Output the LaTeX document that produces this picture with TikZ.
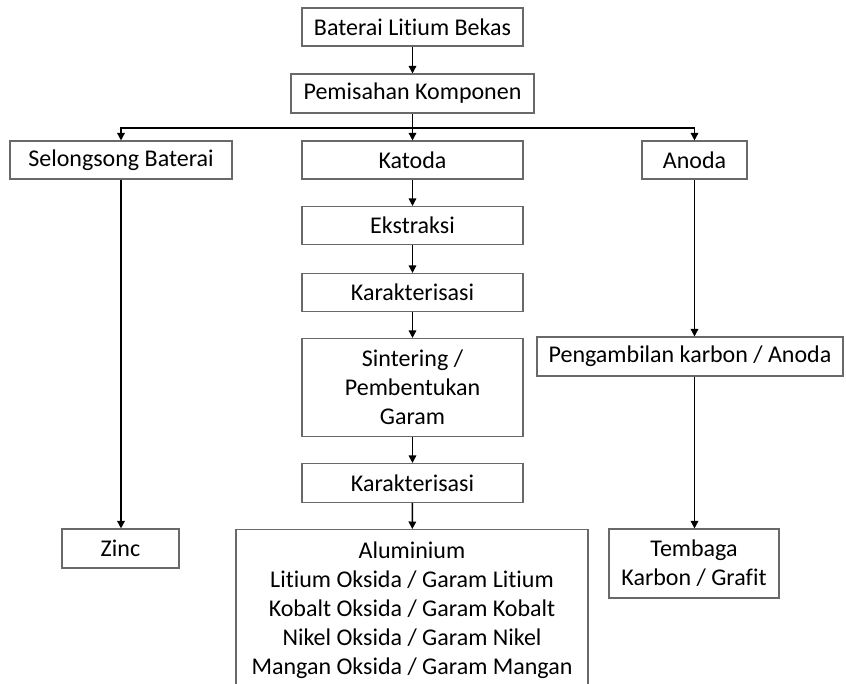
\documentclass[tikz,border=0pt]{standalone}
\usepackage{fontspec}
\setmainfont{Carlito}[Ligatures=NoCommon]
\usetikzlibrary{arrows.meta}
\definecolor{boxgray}{RGB}{105,105,105}
\begin{document}
\begin{tikzpicture}[x=1pt,y=-1pt,
  box/.style={draw=boxgray,line width=1.1pt,rectangle,inner sep=0pt,align=center,
    font=\fontsize{24}{29}\selectfont},
  conn/.style={draw=black,line width=1.5pt,-{Triangle[length=7.5pt,width=7.5pt]}},
  plainline/.style={draw=black,line width=1.5pt}]
\clip (0,0) rectangle (846,683);
\fill[white] (0,0) rectangle (846,683);
\node[box,minimum width=221,minimum height=38] (b1) at (412.5,27) {Baterai Litium Bekas};
\node[box,minimum width=243,minimum height=39] (b2) at (412.5,93.5) {Pemisahan Komponen};
\node[box,minimum width=222,minimum height=38] (sel) at (121,160) {Selongsong Baterai};
\node[box,minimum width=221,minimum height=38] (kat) at (412.5,160) {Katoda};
\node[box,minimum width=105,minimum height=38] (ano) at (694.5,160) {Anoda};
\node[box,minimum width=221,minimum height=38] (eks) at (412.5,225.5) {Ekstraksi};
\node[box,minimum width=221,minimum height=38] (kar1) at (412.5,292.5) {Karakterisasi};
\node[box,minimum width=221,minimum height=98] (sin) at (412.5,387.5) {Sintering /\\Pembentukan\\Garam};
\node[box,minimum width=221,minimum height=39] (kar2) at (412.5,483) {Karakterisasi};
\node[box,minimum width=306,minimum height=39] (peng) at (690,356.5) {Pengambilan karbon / Anoda};
\node[box,minimum width=117,minimum height=39] (zinc) at (120.5,548.5) {Zinc};
\node[box,minimum width=170,minimum height=69] (tem) at (694,563.5) {Tembaga\\Karbon / Grafit};
\node[box,anchor=north,minimum width=352,inner ysep=12pt] (out) at (412,529)
  {Aluminium\\Litium Oksida / Garam Litium\\Kobalt Oksida / Garam Kobalt\\Nikel Oksida / Garam Nikel\\Mangan Oksida / Garam Mangan};
\coordinate (hl) at (412.5,128);
\draw[conn] (b1) -- (b2);
\draw[plainline] (b2.south) -- (hl);
\draw[conn] (hl) -| (sel.north);
\draw[conn] (hl) -| (ano.north);
\draw[conn] (hl) -- (kat.north);
\draw[conn] (kat) -- (eks);
\draw[conn] (eks) -- (kar1);
\draw[conn] (kar1) -- (sin);
\draw[conn] (sin) -- (kar2);
\draw[conn] (kar2) -- (out);
\draw[conn] (sel.south) -- (sel.south |- zinc.north);
\draw[conn] (ano.south) -- (ano.south |- peng.north);
\draw[conn] (ano.south |- peng.south) -- (ano.south |- tem.north);
\end{tikzpicture}
\end{document}
